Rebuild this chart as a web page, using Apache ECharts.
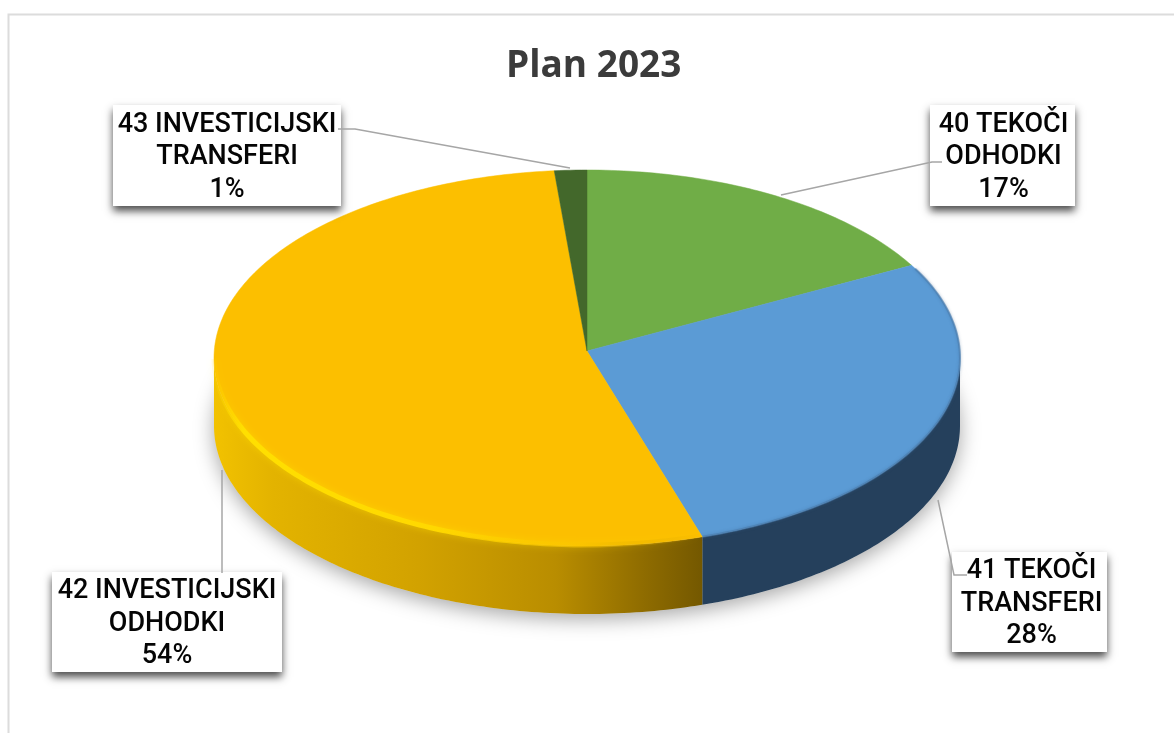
<!DOCTYPE html>
<html><head><meta charset="utf-8">
<style>html,body{margin:0;padding:0;background:#fff}#c{width:1174px;height:733px}</style>
<script src="https://cdn.jsdelivr.net/npm/echarts@6/dist/echarts.min.js"></script>
</head><body><div id="c"></div>
<script>
const chartTitle = 'Plan 2023';
const categories = ['40 TEKOČI\nODHODKI', '41 TEKOČI\nTRANSFERI', '42 INVESTICIJSKI\nODHODKI', '43 INVESTICIJSKI\nTRANSFERI'];
const shares = [16.8, 28.2, 53.6, 1.4];

const topColors = ['#70ad47', '#5b9bd5', '#fcbf00', '#43682b'];
const boxes = [[930,105,145,101],[952,552,155,100],[52,572,230,100],[113,105,228,101]];
const leaders = [
  [[781,195],[932,162],[942,162]],
  [[938,500],[954,575],[967,575]],
  [[222,470],[222,573]],
  [[338,129],[355,129],[570,168]]
];
const CX=587, APEX_Y=351, EY=358, RX=373, RY=188, DEPTH=68;
const total = shares.reduce((a,b)=>a+b,0);
function pt(a,dy){return [CX+RX*Math.sin(a),EY-RY*Math.cos(a)+(dy||0)];}
function range(i){let st=0;for(let k=0;k<i;k++)st+=shares[k];return [st/total*2*Math.PI,(st+shares[i])/total*2*Math.PI];}
function arc(a0,a1,dy){const n=Math.max(4,Math.ceil((a1-a0)*60)),o=[];for(let j=0;j<=n;j++)o.push(pt(a0+(a1-a0)*j/n,dy));return o;}

function renderSide(params,api){
  const [a0,a1]=range(params.dataIndex);
  const lo=Math.max(a0,Math.PI/2), hi=Math.min(a1,Math.PI*1.5);
  if(hi<=lo) return {type:'group',children:[]};
  const upper=arc(lo,hi,0), lower=arc(lo,hi,DEPTH).reverse();
  let fill;
  if(params.dataIndex===2){
    const x0=pt(hi)[0],x1=pt(lo)[0];
    fill=new echarts.graphic.LinearGradient(x0,0,x1,0,[
      {offset:0,color:'#f2c200'},{offset:.12,color:'#e3b300'},{offset:.42,color:'#d2a200'},
      {offset:.7,color:'#b98d00'},{offset:.88,color:'#8f6c00'},{offset:1,color:'#745800'}],true);
  } else {
    fill='#25405c';
  }
  return {type:'polygon',shape:{points:upper.concat(lower)},style:{fill:fill,stroke:null}};
}
function renderShadow(params,api){
  if(params.dataIndex!==0) return {type:'group',children:[]};
  return {type:'polygon',shape:{points:arc(0,2*Math.PI,DEPTH)},
    style:{fill:'#ddd',shadowColor:'rgba(0,0,0,0.35)',shadowBlur:20,shadowOffsetY:5}};
}
function renderTop(params,api){
  const i=params.dataIndex,[a0,a1]=range(i);
  const rim=arc(a0,a1,0);
  const kids=[{type:'polygon',shape:{points:[[CX,APEX_Y]].concat(rim)},style:{fill:topColors[i],stroke:topColors[i],lineWidth:.5}}];
  if(i===2){
    const lo=Math.max(a0,Math.PI/2),hi=Math.min(a1,1.5*Math.PI);
    const x0=pt(hi)[0],x1=pt(lo)[0];
    const rimGlow=new echarts.graphic.LinearGradient(x0,0,x1,0,[
      {offset:0,color:'rgba(255,216,0,0.1)'},{offset:.06,color:'#ffdf00'},{offset:.45,color:'#ffd800'},
      {offset:.75,color:'rgba(250,196,0,0.6)'},{offset:1,color:'rgba(200,150,0,0)'}],true);
    kids.push({type:'polyline',shape:{points:arc(lo,hi-.01,-1)},style:{fill:null,stroke:rimGlow,lineWidth:5,lineCap:'butt',shadowColor:'rgba(255,222,0,.6)',shadowBlur:7}});
  }
  if(i===1){
    kids.push({type:'polyline',shape:{points:arc(a0+.02,a1,0)},style:{fill:null,stroke:'#4a7cab',lineWidth:2,opacity:.6,shadowColor:'rgba(60,100,140,.6)',shadowBlur:3}});
  }
  return {type:'group',children:kids};
}
function renderLabel(params,api){
  const i=params.dataIndex,b=boxes[i];
  const txt=categories[i]+'\n'+Math.round(api.value(0))+'%';
  return {type:'group',children:[
    {type:'rect',shape:{x:b[0],y:b[1],width:b[2],height:b[3]},
      style:{fill:'#fff',shadowColor:'rgba(0,0,0,0.7)',shadowBlur:8,shadowOffsetX:0,shadowOffsetY:5}},
    {type:'polyline',shape:{points:leaders[i]},style:{fill:null,stroke:'#a6a6a6',lineWidth:1.5}},
    {type:'text',style:{x:b[0]+b[2]/2+(i===0?1:i===1?2:0),y:b[1]+b[3]/2+2,text:txt,align:'center',verticalAlign:'middle',
      fontFamily:'Roboto',fontSize:27,lineHeight:32.5,fill:'#050505',fontWeight:500}}
  ]};
}
const rows=shares.map((v,i)=>({name:categories[i],value:[v]}));
const chart=echarts.init(document.getElementById('c'),null,{renderer:'canvas'});
chart.setOption({
  animation:false,
  backgroundColor:'#fff',
  title:{text:chartTitle,left:501,top:43,
    textStyle:{fontFamily:'Open Sans',fontWeight:'bold',fontSize:37,color:'#3b3b3b'}},
  graphic:[{type:'rect',shape:{x:8.5,y:14.5,width:1200,height:760},style:{fill:'none',stroke:'#dcdcdc',lineWidth:2},silent:true,z:-1}],
  series:[
    {type:'custom',coordinateSystem:'none',data:rows,renderItem:renderShadow,z:1,silent:true},
    {type:'custom',coordinateSystem:'none',data:rows,renderItem:renderSide,z:2,silent:true},
    {type:'custom',coordinateSystem:'none',data:rows,renderItem:renderTop,z:3,silent:true},
    {type:'custom',coordinateSystem:'none',data:rows,renderItem:renderLabel,z:4,silent:true}
  ]
});
</script></body></html>
